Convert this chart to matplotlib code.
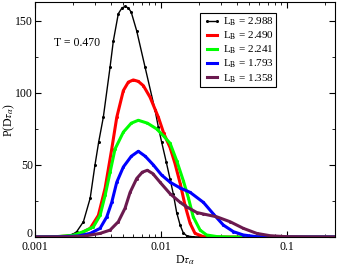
import numpy as np
import matplotlib
matplotlib.use("Agg")
import matplotlib.pyplot as plt
import matplotlib.transforms as mtransforms
from matplotlib.ticker import FixedLocator, LogLocator, NullFormatter, MultipleLocator

plt.rc('font', family='Liberation Serif', size=8.5)
plt.rc('mathtext', fontset='stix')

# values (D tau_alpha, P)
x_b = [0.001, 0.0015, 0.0018, 0.002, 0.00214, 0.00242, 0.00274, 0.00299, 0.0032, 0.00348, 0.00394, 0.00418,
       0.00458, 0.0049, 0.00518, 0.0055, 0.0058, 0.00641, 0.00746, 0.00896, 0.00953, 0.0101, 0.011, 0.0118,
       0.0125, 0.0133, 0.0142, 0.015, 0.016, 0.018, 0.02, 0.05, 0.1, 0.24]
y_b = [0, 0.3, 1.0, 2.0, 3.7, 10.6, 27, 50, 66, 83, 118, 136,
       155, 159, 160, 159, 156, 143, 118, 88, 76, 66, 52, 40,
       30, 17, 8, 3, 0.8, 0.1, 0, 0, 0, 0]

x_r = [0.001, 0.0015, 0.002, 0.00228, 0.00274, 0.00318, 0.0036, 0.00406, 0.00445, 0.00502, 0.0055, 0.00602,
       0.0066, 0.00724, 0.00818, 0.00953, 0.0105, 0.0118, 0.0129, 0.0142, 0.0155, 0.017, 0.0186, 0.0216,
       0.025, 0.05, 0.1, 0.24]
y_r = [0, 0.2, 1.0, 2.5, 6, 15, 34, 61, 83, 101.6, 107.5, 109,
       108, 105, 97, 83, 72, 62, 51, 37, 22, 9.5, 2.5, 0.3,
       0, 0, 0, 0]

x_g = [0.001, 0.0015, 0.002, 0.00242, 0.0029, 0.00328, 0.0036, 0.00394, 0.00431, 0.00502, 0.0058, 0.0066,
       0.0078, 0.00923, 0.0105, 0.0118, 0.0133, 0.01503, 0.0165, 0.018, 0.0204, 0.023, 0.0277, 0.035,
       0.05, 0.1, 0.24]
y_g = [0, 0.3, 1.2, 3.7, 7, 15, 29, 45, 61, 72.8, 79, 81,
       79, 75, 70, 65, 53, 39, 27, 14, 4.8, 1.4, 0.3, 0,
       0, 0, 0]

x_bl = [0.001, 0.0015, 0.0022, 0.00274, 0.00328, 0.00371, 0.00406, 0.00445, 0.00502, 0.0058, 0.0066, 0.0075,
        0.00869, 0.0101, 0.0118, 0.0142, 0.017, 0.0217, 0.026, 0.0312, 0.0375, 0.045, 0.0575, 0.08,
        0.1, 0.24]
y_bl = [0, 0.1, 0.7, 2.5, 6, 14, 24, 38, 48.6, 56, 59.5, 56,
        50, 43, 38, 34, 31, 24, 16, 8.3, 3.7, 1.4, 0.2, 0,
        0, 0]

x_p = [0.001, 0.0018, 0.0024, 0.00328, 0.00394, 0.00458, 0.00518, 0.00568, 0.00641, 0.0071, 0.00778, 0.0086,
       0.00982, 0.0118, 0.0142, 0.0159, 0.0192, 0.0216, 0.0277, 0.0353, 0.045, 0.0575, 0.0733, 0.1,
       0.15, 0.24]
y_p = [0, 0.1, 0.5, 2.5, 4.8, 10.6, 20, 31, 40.6, 45, 46.3, 44,
       38, 30, 24, 21, 17, 16, 14, 10.6, 6, 2.5, 0.9, 0.2,
       0.05, 0]

labels = ['2.988', '2.490', '2.241', '1.793', '1.358']
colors = ['black', 'red', '#00ff00', 'blue', '#6b1a4f']
series = [(x_b, y_b), (x_r, y_r), (x_g, y_g), (x_bl, y_bl), (x_p, y_p)]
widths = [1.0, 2.2, 2.2, 2.2, 2.2]

fig = plt.figure(figsize=(3.37, 2.66), dpi=100)
ax = fig.add_axes([0.104, 0.109, 0.890, 0.883])

for (xs, ys), c, l, w in zip(series, colors, labels, widths):
    ax.plot(xs, ys, color=c, lw=w, marker='o', ms=2.2, mew=0,
            solid_joinstyle='round', label=r'L$_\mathrm{B}$ = ' + l)

ax.set_xscale('log')
ax.set_xlim(0.001, 0.24)
ax.set_ylim(0, 163)
ax.xaxis.set_major_locator(FixedLocator([0.001, 0.01, 0.1]))
ax.set_xticklabels(['0.001', '0.01', '0.1'])
ax.xaxis.set_minor_locator(LogLocator(base=10, subs=np.arange(2, 10)))
ax.xaxis.set_minor_formatter(NullFormatter())
ax.yaxis.set_major_locator(FixedLocator([0, 50, 100, 150]))
ax.yaxis.set_minor_locator(MultipleLocator(25))
ax.tick_params(which='both', direction='in', top=True, right=True)
ax.tick_params(axis='x', pad=3)
ax.tick_params(axis='y', pad=1.5)
ax.tick_params(which='major', length=4, width=0.8)
ax.tick_params(which='minor', length=2, width=0.6)
for s in ax.spines.values():
    s.set_linewidth(0.8)

ax.set_xlabel(r'D$\tau_\alpha$', labelpad=0)
ax.set_ylabel(r'P(D$\tau_\alpha$)')
ax.yaxis.set_label_coords(-0.06, 0.5)
ax.text(0.062, 0.825, 'T = 0.470', transform=ax.transAxes, va='center')

leg = ax.legend(loc='upper right', bbox_to_anchor=(0.805, 0.955), numpoints=2,
                frameon=True, fancybox=False, edgecolor='black', framealpha=1,
                handlelength=1.5, handletextpad=0.25, labelspacing=0.15,
                borderpad=0.25, borderaxespad=0, prop={'size': 8})
leg.get_frame().set_linewidth(0.8)

# nudge the "0" y label up a little so it clears "0.001"
fig.canvas.draw()
for t in ax.yaxis.get_major_ticks():
    if t.get_loc() == 0:
        t.label1.set_transform(t.label1.get_transform()
                               + mtransforms.ScaledTranslation(0, 3 / 72, fig.dpi_scale_trans))

fig.savefig('out.png', dpi=100)
